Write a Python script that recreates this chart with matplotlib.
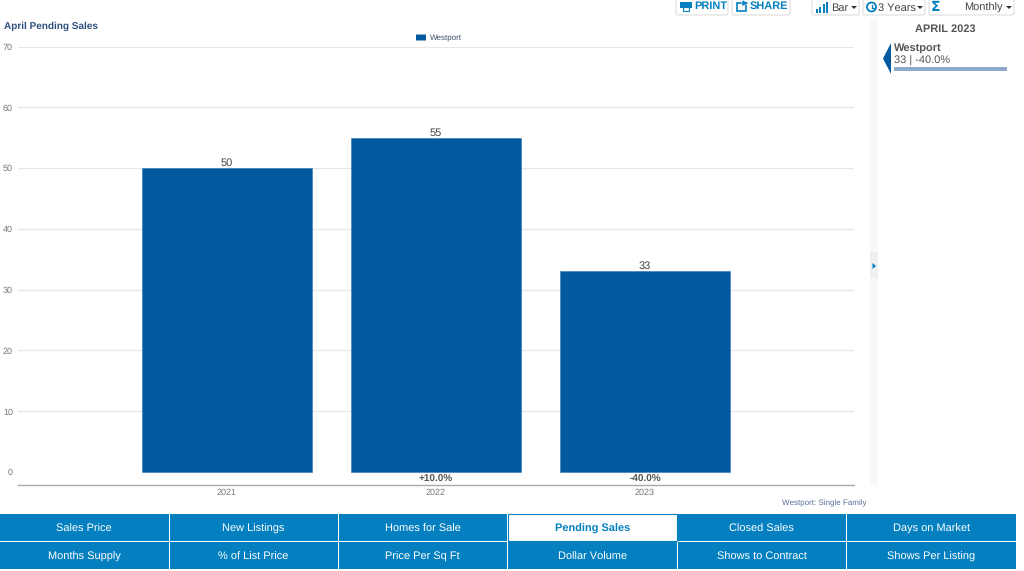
import matplotlib
matplotlib.use('Agg')
import matplotlib.pyplot as plt
from matplotlib.patches import Rectangle, Polygon, Circle, FancyBboxPatch

plt.rcParams['font.family'] = ['Liberation Sans', 'DejaVu Sans']
plt.rcParams['text.hinting'] = 'no_hinting'
plt.rcParams['text.hinting_factor'] = 1

years = ['2021', '2022', '2023']
pending_sales = [50, 55, 33]
changes = ['', '+10.0%', '-40.0%']
y_ticks = [0, 10, 20, 30, 40, 50, 60, 70]
tabs_top = ['Sales Price', 'New Listings', 'Homes for Sale', 'Pending Sales', 'Closed Sales', 'Days on Market']
tabs_bottom = ['Months Supply', '% of List Price', 'Price Per Sq Ft', 'Dollar Volume', 'Shows to Contract', 'Shows Per Listing']
active_tab = 'Pending Sales'

W, H = 1024, 571
BLUE = '#01599f'
TAB = '#0480c0'
GREY = '#444444'

fig = plt.figure(figsize=(W / 100, H / 100), dpi=100, facecolor='white')

# overlay in pixel coordinates for the page furniture
ui = fig.add_axes([0, 0, 1, 1])
ui.set_xlim(0, W)
ui.set_ylim(H, 0)
ui.axis('off')

# chart axes
left, right, top, bottom = 18, 854, 46.5, 472
ax = fig.add_axes([left / W, 1 - bottom / H, (right - left) / W, (bottom - top) / H])
ax.patch.set_alpha(0)
ax.set_xlim(-1, 3)
ax.set_ylim(0, 70)
for s in ax.spines.values():
    s.set_visible(False)
ax.set_yticks(y_ticks)
ax.set_xticks([])
ax.tick_params(axis='y', length=0, labelsize=6.2, labelcolor='#777777', pad=3.6)
ax.set_axisbelow(True)
ax.grid(axis='y', color='#e6e6e6', lw=0.9)

ax.bar(range(len(years)), pending_sales, width=0.81, color=BLUE, edgecolor='#2f78b4', lw=0.4, clip_on=False)
for i, v in enumerate(pending_sales):
    ax.annotate(str(v), (i, v), xytext=(0, 0), textcoords='offset points', ha='center', va='bottom',
                fontsize=8.2, color=GREY)
    ax.annotate(changes[i], (i, 0), xytext=(0, -5), textcoords='offset points', ha='center', va='center',
                fontsize=7.3, color='#555555', fontweight='bold', annotation_clip=False)
    ax.annotate(years[i], (i, 0), xytext=(0, -15), textcoords='offset points', ha='center', va='center',
                fontsize=6.2, color='#777777', annotation_clip=False)

# axis line under the chart
ui.plot([left, right], [484.5, 484.5], color='#aaaaaa', lw=1)

# title + legend
ui.text(4, 26.5, 'April Pending Sales', fontsize=7.5, fontweight='bold', color='#2d4f7c', va='center')
ui.add_patch(FancyBboxPatch((416.5, 35), 9, 5, boxstyle='round,pad=0.5', fc=BLUE, ec='none'))
ui.text(429.5, 38.5, 'Westport', fontsize=5.9, color='#3d4f6b', va='center')
ui.text(867, 503.5, 'Westport: Single Family', fontsize=5.7, color='#56709a', va='center', ha='right')

# side panel strip
ui.add_patch(Rectangle((870, 19), 8, 466, fc='#f8f8f8', ec='none'))
ui.add_patch(Rectangle((870, 252), 8, 26, fc='#efefef', ec='none'))
ui.add_patch(Polygon([(872.5, 263), (876, 266), (872.5, 269)], fc='#0480c0', ec='none'))

ui.text(945.5, 29.5, 'APRIL 2023', fontsize=7.6, fontweight='bold', color='#555555', ha='center', va='center')
ui.add_patch(Polygon([(891, 43), (891, 74), (883, 58.5)], fc=BLUE, ec='none'))
ui.text(894, 48, 'Westport', fontsize=8, fontweight='bold', color='#555555', va='center')
ui.text(894, 60.5, f'{pending_sales[2]} | {changes[2]}', fontsize=8, color='#555555', va='center')
ui.add_patch(Rectangle((894, 66.5), 113, 4.5, fc='#8faacc', ec='none'))


def tool_button(x0, x1):
    ui.add_patch(FancyBboxPatch((x0, -4), x1 - x0, 19, boxstyle='round,pad=0,rounding_size=2',
                                fc='white', ec='#dddddd', lw=0.8))


# toolbar
tool_button(676, 728)
tool_button(732, 790)
tool_button(812, 859)
tool_button(863, 925)
tool_button(929, 1014)
ui.text(694, 6.5, 'PRINT', fontsize=7.7, fontweight='bold', color=TAB, va='center')
ui.add_patch(Rectangle((680, 2), 12, 6, fc=TAB, ec='none'))
ui.add_patch(Rectangle((683, 7), 6, 4, fc='white', ec=TAB, lw=0.8))
ui.text(750, 6.5, 'SHARE', fontsize=8, fontweight='bold', color=TAB, va='center')
ui.add_patch(Rectangle((737, 3), 9, 8, fc='none', ec=TAB, lw=1.2))
ui.add_patch(Polygon([(742, 0), (749, 3), (742, 6.5)], fc=TAB, ec='white', lw=0.4))
for bx, bh in zip([815.5, 819, 822.5, 825.5], [4, 6, 9, 11]):
    ui.add_patch(Rectangle((bx, 13 - bh), 2, bh, fc=TAB, ec='none'))
ui.text(831, 10.5, 'Bar', fontsize=8, color=GREY, va='baseline')
ui.add_patch(Polygon([(851, 6), (857, 6), (854, 9)], fc='#333333', ec='none'))
ui.add_patch(Circle((871.5, 7), 4.5, fc='none', ec=TAB, lw=1.3))
ui.plot([871.5, 871.5, 874], [4.5, 7.5, 7.5], color=TAB, lw=0.9)
ui.text(878, 10.5, '3 Years', fontsize=8, color=GREY, va='baseline')
ui.add_patch(Polygon([(917, 6), (923, 6), (920, 9)], fc='#333333', ec='none'))
ui.text(936, 7, 'Σ', fontsize=10, fontweight='bold', color=TAB, va='center', ha='center',
        family=['DejaVu Sans'])
ui.text(964, 10.5, 'Monthly', fontsize=8, color=GREY, va='baseline')
ui.add_patch(Polygon([(1006, 6), (1012, 6), (1009, 9)], fc='#333333', ec='none'))

# metric tabs
col_edges = [0, 169.5, 338.5, 508, 677.5, 847, 1017]
for row, (labels, y0, y1) in enumerate([(tabs_top, 514, 541), (tabs_bottom, 542, 569)]):
    for j, label in enumerate(labels):
        x0, x1 = col_edges[j], col_edges[j + 1] - 1
        on = label == active_tab
        ui.add_patch(Rectangle((x0, y0), x1 - x0, y1 - y0, fc='white' if on else TAB,
                               ec=TAB if on else 'none', lw=0.8))
        ui.text((x0 + x1) / 2, (y0 + y1) / 2 + 4, label, fontsize=7.65, ha='center', va='baseline',
                color=TAB if on else 'white', fontweight='bold' if on else 'normal')

fig.savefig('out.png', dpi=100)
